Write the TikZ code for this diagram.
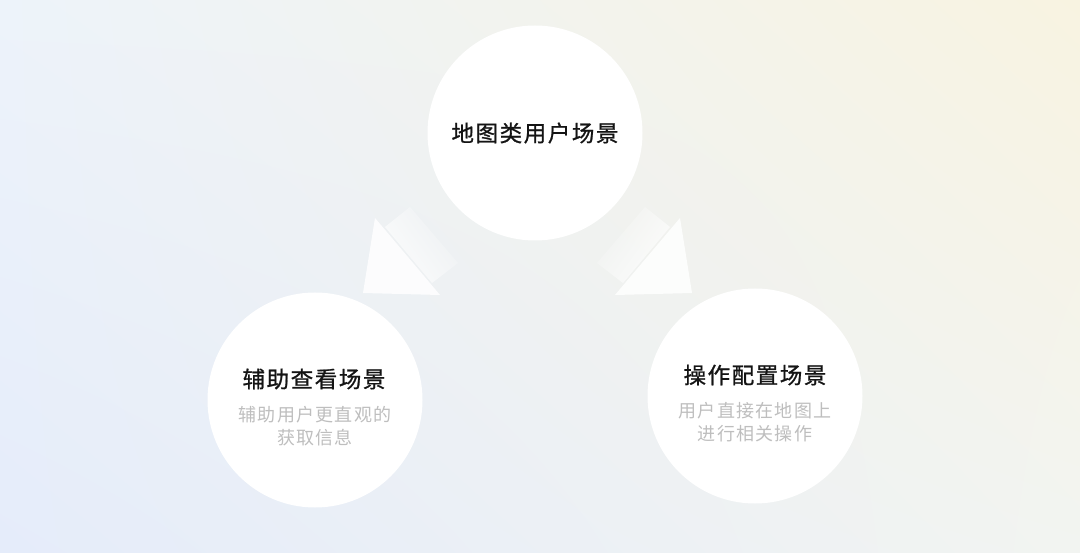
\documentclass[tikz,border=0pt]{standalone}
\usepackage{fontspec}
\newfontfamily\cjktitle[LetterSpace=7,FakeBold=1.0]{Noto Sans CJK SC}
\newfontfamily\cjksub[LetterSpace=7]{Noto Sans CJK SC}
\usetikzlibrary{fadings,shadings}
\definecolor{bgTL}{HTML}{EDF3FA}
\definecolor{bgTR}{HTML}{F8F3E1}
\definecolor{bgBL}{HTML}{E5ECFA}
\definecolor{bgBR}{HTML}{F2F4F1}
\definecolor{titlecol}{HTML}{141414}
\definecolor{subcol}{HTML}{BEBEBE}
\tikzfading[name=shaftfade, left color=transparent!20, right color=transparent!100]
\tikzset{
  bubble/.style={circle, fill=white, minimum size=215pt, inner sep=0pt, align=center},
  titletext/.style={font=\cjktitle\fontsize{22.5}{26}\selectfont, text=titlecol},
  subtext/.style={font=\cjksub\fontsize{18}{23}\selectfont, text=subcol},
  arrowhead/.style={fill=white, fill opacity=0.85},
  arrowshaft/.style={fill=white, path fading=shaftfade}
}
\begin{document}
\begin{tikzpicture}[x=1pt,y=-1pt]
\useasboundingbox (0,0) rectangle (1080,553);
\shade[upper left=bgTL, upper right=bgTR, lower left=bgBL, lower right=bgBR] (0,0) rectangle (1080,553);
% circles
\node[bubble] (top) at (535,133) {};
\node[bubble] (left) at (315,400) {};
\node[bubble] (right) at (755,396) {};
% texts
\node[titletext] (toptitle) at (535,133) {地图类用户场景};
\node[titletext] (lefttitle) at (314,379) {辅助查看场景};
\node[subtext, align=center] (leftsub) at (315,426) {辅助用户更直观的\\获取信息};
\node[titletext] (righttitle) at (755,375) {操作配置场景};
\node[subtext, align=center] (rightsub) at (755,422) {用户直接在地图上\\进行相关操作};
% left arrow
\fill[arrowshaft, fading angle=37] (385,227) -- (410,207) -- (458,263) -- (432,283) -- cycle;
\fill[arrowhead] (375,218) -- (363,293) -- (440,295) -- cycle;
% right arrow
\fill[arrowshaft, fading angle=143] (670,227) -- (645,207) -- (597,263) -- (623,283) -- cycle;
\fill[arrowhead] (680,218) -- (692,293) -- (615,295) -- cycle;
\end{tikzpicture}
\end{document}
